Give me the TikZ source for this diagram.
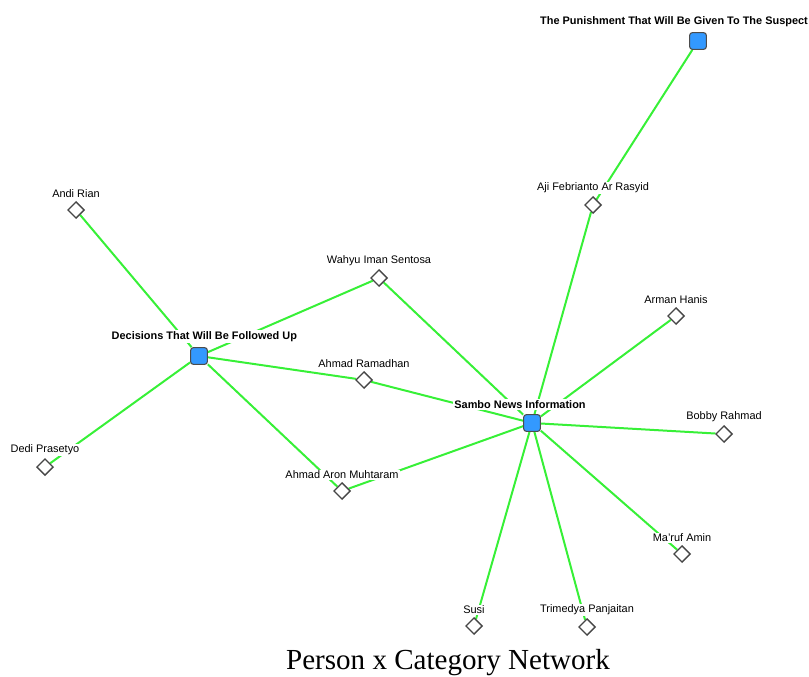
\documentclass[tikz,border=0pt]{standalone}
\usepackage{fontspec}
\setmainfont{Liberation Serif}
\setsansfont{Liberation Sans}
\usepackage{tikz}
\usetikzlibrary{shapes.geometric,backgrounds}
\definecolor{EdgeGreen}{RGB}{55,240,55}
\definecolor{CatBlue}{RGB}{51,153,255}

\begin{document}
\begin{tikzpicture}[x=0.75pt,y=-0.75pt]
				%\draw[help lines] (0,0) grid (809,677);
				\useasboundingbox (0,0) rectangle (809,677);
				\tikzset{
				person/.style	= {diamond, draw=gray!55!black, fill=white, line width=1pt,
					inner sep=0pt, minimum size=12.5pt},
				category/.style	= {rectangle, rounded corners=2pt, draw=black!70, fill=CatBlue,
					line width=0.8pt, inner sep=0pt, minimum size=12.5pt},
				plabel/.style	= {font=\sffamily\fontsize{8.2}{9}\selectfont, fill=white,
					inner sep=1pt, label distance=1pt},
				clabel/.style	= {plabel, font=\sffamily\bfseries\fontsize{8.2}{9}\selectfont,
					label distance=3pt},
				edge/.style		= {draw=EdgeGreen, line width=1.5pt}}
				
				\node[category, label={[clabel,xshift=-18pt]above:The Punishment That Will Be Given To The Suspect}] (punish) at (698,41) {};
				\node[category, label={[clabel,xshift=4pt]above:Decisions That Will Be Followed Up}] (decide) at (199,356) {};
				\node[category, label={[clabel,xshift=-9pt]above:Sambo News Information}] (sambo) at (532,423) {};
				
				\node[person, label={[plabel]above:Andi Rian}] (andi) at (76,210) {};
				\node[person, label={[plabel]above:Aji Febrianto Ar Rasyid}] (aji) at (593,205) {};
				\node[person, label={[plabel]above:Wahyu Iman Sentosa}] (wahyu) at (379,278) {};
				\node[person, label={[plabel]above:Arman Hanis}] (arman) at (676,316) {};
				\node[person, label={[plabel]above:Ahmad Ramadhan}] (ramadhan) at (364,380) {};
				\node[person, label={[plabel]above:Bobby Rahmad}] (bobby) at (724,434) {};
				\node[person, label={[plabel]above:Dedi Prasetyo}] (dedi) at (45,467) {};
				\node[person, label={[plabel]above:Ahmad Aron Muhtaram}] (aron) at (342,491) {};
				\node[person, label={[plabel]above:Ma'ruf Amin}] (maruf) at (682,554) {};
				\node[person, label={[plabel]above:Susi}] (susi) at (474,626) {};
				\node[person, label={[plabel]above:Trimedya Panjaitan}] (trimedya) at (587,627) {};
				
				\node[font=\fontsize{21.8}{24}\selectfont] (caption) at (448,663) {Person x Category Network};
				
				\begin{scope}[on background layer]
				\draw[edge] (punish) -- (aji);
				\draw[edge] (aji) -- (sambo);
				\draw[edge] (andi) -- (decide);
				\draw[edge] (decide) -- (wahyu);
				\draw[edge] (wahyu) -- (sambo);
				\draw[edge] (decide) -- (ramadhan);
				\draw[edge] (ramadhan) -- (sambo);
				\draw[edge] (decide) -- (dedi);
				\draw[edge] (decide) -- (aron);
				\draw[edge] (aron) -- (sambo);
				\draw[edge] (sambo) -- (arman);
				\draw[edge] (sambo) -- (bobby);
				\draw[edge] (sambo) -- (maruf);
				\draw[edge] (sambo) -- (susi);
				\draw[edge] (sambo) -- (trimedya);
				\end{scope}
				\end{tikzpicture}
\end{document}
